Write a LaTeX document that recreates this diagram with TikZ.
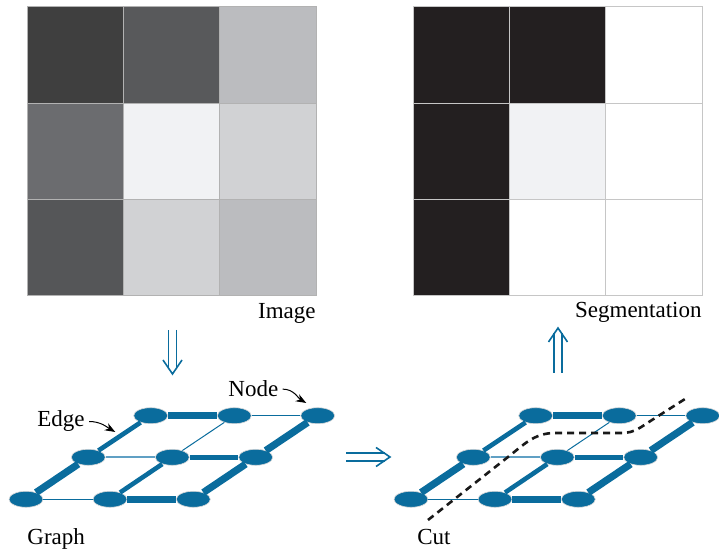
\documentclass[tikz,border=0pt]{standalone}
\usepackage{fontspec}
\setmainfont{Liberation Serif}
\usetikzlibrary{arrows.meta,shapes.geometric,calc}
\definecolor{nodeblue}{RGB}{10,108,157}
\definecolor{lightblue}{RGB}{96,160,196}
\definecolor{pixA}{RGB}{63,63,63}
\definecolor{pixB}{RGB}{88,89,91}
\definecolor{pixC}{RGB}{187,188,191}
\definecolor{pixD}{RGB}{107,108,111}
\definecolor{pixE}{RGB}{241,242,244}
\definecolor{pixF}{RGB}{209,210,212}
\definecolor{pixG}{RGB}{85,86,88}
\definecolor{segblack}{RGB}{35,31,32}
\begin{document}
\begin{tikzpicture}[x=0.5pt, y=-0.5pt, >=Stealth,
    font=\rmfamily\fontsize{11.5}{13}\selectfont,
    cellL/.style={draw=gray!60, line width=0.5pt},
    cellR/.style={draw=gray!45, line width=0.5pt},
    lbl/.style={inner sep=0pt},
    vertex/.style={ellipse, fill=nodeblue, draw=gray!30, line width=0.3pt,
                   minimum width=17pt, minimum height=8pt, inner sep=0pt},
    thickE/.style={nodeblue, line width=3.6pt},
    midE/.style={nodeblue, line width=2.3pt},
    thinE/.style={nodeblue, line width=0.5pt},
    lightE/.style={lightblue, line width=0.8pt},
    shaft/.style={draw=nodeblue, double=white, double distance=3.2pt, line width=0.75pt},
    chev/.style={nodeblue, line width=0.8pt},
    pointer/.style={->, line width=0.5pt, shorten >=1pt}]
  \useasboundingbox (0,0) rectangle (719,549);

  % Bildfeld links (Grauwerte)
  \draw[cellL, fill=pixA] (27,7) rectangle (123.3,103.5);
  \draw[cellL, fill=pixB] (123.3,7) rectangle (219.6,103.5);
  \draw[cellL, fill=pixC] (219.6,7) rectangle (316,103.5);
  \draw[cellL, fill=pixD] (27,103.5) rectangle (123.3,199.8);
  \draw[cellL, fill=pixE] (123.3,103.5) rectangle (219.6,199.8);
  \draw[cellL, fill=pixF] (219.6,103.5) rectangle (316,199.8);
  \draw[cellL, fill=pixG] (27,199.8) rectangle (123.3,296);
  \draw[cellL, fill=pixF] (123.3,199.8) rectangle (219.6,296);
  \draw[cellL, fill=pixC] (219.6,199.8) rectangle (316,296);
  \node[lbl, anchor=base east] (image) at (316,319) {Image};

  % Segmentierung rechts
  \draw[cellR, fill=segblack] (413,7) rectangle (509.3,103.5);
  \draw[cellR, fill=segblack] (509.3,7) rectangle (605.6,103.5);
  \draw[cellR, fill=white] (605.6,7) rectangle (702,103.5);
  \draw[cellR, fill=segblack] (413,103.5) rectangle (509.3,199.8);
  \draw[cellR, fill=pixE] (509.3,103.5) rectangle (605.6,199.8);
  \draw[cellR, fill=white] (605.6,103.5) rectangle (702,199.8);
  \draw[cellR, fill=segblack] (413,199.8) rectangle (509.3,296);
  \draw[cellR, fill=white] (509.3,199.8) rectangle (605.6,296);
  \draw[cellR, fill=white] (605.6,199.8) rectangle (702,296);
  \node[lbl, anchor=base east] (segm) at (702,318) {Segmentation};

  % Doppelpfeile zwischen den Teilbildern
  \coordinate (downS) at (172.5,330);
  \coordinate (downE) at (172.5,374);
  \coordinate (upS) at (558,373);
  \coordinate (upE) at (558,328);
  \coordinate (rightS) at (346,457);
  \coordinate (rightE) at (390,457);
  \draw[shaft] (downS) -- ($(downE)+(0,-5)$);
  \draw[chev] ($(downE)+(-9.5,-14)$) -- (downE) -- ($(downE)+(9.5,-14)$);
  \draw[shaft] (upS) -- ($(upE)+(0,5)$);
  \draw[chev] ($(upE)+(-9.5,14)$) -- (upE) -- ($(upE)+(9.5,14)$);
  \draw[shaft] (rightS) -- ($(rightE)+(-5,0)$);
  \draw[chev] ($(rightE)+(-14,-9.5)$) -- (rightE) -- ($(rightE)+(-14,9.5)$);

  % Graph links
  \node[vertex] (g11) at (150.7,415.7) {};
  \node[vertex] (g12) at (234.3,415.7) {};
  \node[vertex] (g13) at (317.7,415.7) {};
  \node[vertex] (g21) at (88.3,457.3) {};
  \node[vertex] (g22) at (172.3,457.3) {};
  \node[vertex] (g23) at (255.7,457.3) {};
  \node[vertex] (g31) at (26,499.3) {};
  \node[vertex] (g32) at (110,499.3) {};
  \node[vertex] (g33) at (193.3,499.3) {};
  \draw[thickE] (g11) -- (g12);
  \draw[thinE] (g12) -- (g13);
  \draw[lightE] (g21) -- (g22);
  \draw[midE] (g22) -- (g23);
  \draw[thinE] (g31) -- (g32);
  \draw[thickE] (g32) -- (g33);
  \draw[midE] (g11) -- (g21);
  \draw[thickE] (g21) -- (g31);
  \draw[thinE] (g12) -- (g22);
  \draw[midE] (g22) -- (g32);
  \draw[thickE] (g13) -- (g23);
  \draw[thickE] (g23) -- (g33);

  \node[lbl, anchor=base west] (edgelbl) at (37,427) {Edge};
  \node[lbl, anchor=base west] (nodelbl) at (228,397) {Node};
  \coordinate (edgept) at (117,433);
  \coordinate (nodept) at (308,404);
  \draw[pointer] ([xshift=2]edgelbl.east) to[out=0, in=150] (edgept);
  \draw[pointer] ([xshift=2]nodelbl.east) to[out=0, in=150] (nodept);
  \node[lbl, anchor=base west] (graph) at (27,545) {Graph};

  % Graph rechts mit Schnitt
  \node[vertex] (c11) at (535.7,415.7) {};
  \node[vertex] (c12) at (619.3,415.7) {};
  \node[vertex] (c13) at (702.7,415.7) {};
  \node[vertex] (c21) at (473.3,457.3) {};
  \node[vertex] (c22) at (557.3,457.3) {};
  \node[vertex] (c23) at (640.7,457.3) {};
  \node[vertex] (c31) at (411,499.3) {};
  \node[vertex] (c32) at (495,499.3) {};
  \node[vertex] (c33) at (578.3,499.3) {};
  \draw[thickE] (c11) -- (c12);
  \draw[thinE] (c12) -- (c13);
  \draw[lightE] (c21) -- (c22);
  \draw[midE] (c22) -- (c23);
  \draw[thinE] (c31) -- (c32);
  \draw[thickE] (c32) -- (c33);
  \draw[midE] (c11) -- (c21);
  \draw[thickE] (c21) -- (c31);
  \draw[thinE] (c12) -- (c22);
  \draw[midE] (c22) -- (c32);
  \draw[thickE] (c13) -- (c23);
  \draw[thickE] (c23) -- (c33);

  \coordinate (cutS) at (428,520);
  \coordinate (cutE) at (685,399);
  \draw[black!90, line width=1.3pt, dash pattern=on 3.5pt off 2.5pt]
    (cutS) -- (508,457) to[out=38, in=180] (555,433) -- (622,433)
    to[out=0, in=212] (652,420) -- (cutE);
  \node[lbl, anchor=base west] (cut) at (417,545) {Cut};
\end{tikzpicture}
\end{document}
